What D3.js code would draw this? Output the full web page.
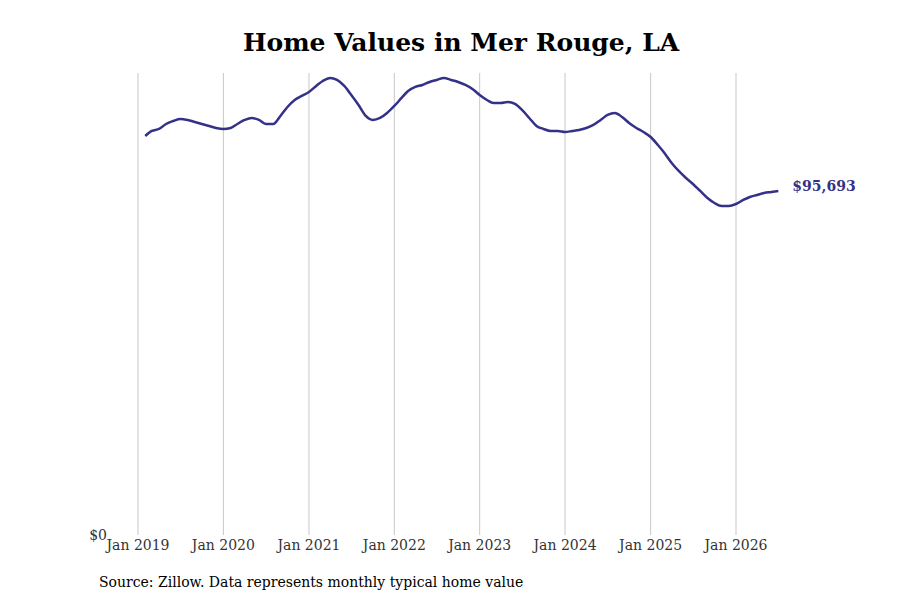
<!DOCTYPE html>
<html>
<head>
<meta charset="utf-8">
<script src="https://cdn.jsdelivr.net/npm/d3@7"></script>
<style>
  body { margin: 0; background: #fff; }
  text { font-family: "DejaVu Serif", "Liberation Serif", serif; }
</style>
</head>
<body>
<div class="chart"></div>
<script>
const width = 900;
const height = 600;

const startMonth = new Date(2019, 1, 1); // Feb 2019
const values = [
  111000, 112393, 112949, 114340, 115175, 115731, 115453, 114897, 114340, 113784, 113227,
  112949, 113227, 114340, 115453, 116009, 115453, 114340, 114340, 116566, 119070, 121017, 122130,
  123243, 124912, 126303, 127137, 126581, 124912, 122408, 119626, 116566, 115453, 116009, 117400,
  119348, 121573, 123521, 124634, 125190, 126025, 126581, 127137, 126581, 126025, 125190, 124077,
  122408, 121017, 120182, 120182, 120461, 119904, 118235, 116009, 113784, 112949, 112393, 112393,
  112115, 112393, 112671, 113227, 114062, 115453, 116844, 117400, 116288, 114618, 113227, 112115,
  110724, 108498, 106272, 103490, 101265, 99317, 97648, 95701, 93753, 92362, 91528, 91528,
  92084, 93197, 94032, 94588, 95144, 95423, 95693
];
const tickYears = [2019, 2020, 2021, 2022, 2023, 2024, 2025, 2026];

const data = values.map((v, i) => ({
  date: new Date(startMonth.getFullYear(), startMonth.getMonth() + i, 1),
  value: v
}));

const svg = d3.select('.chart')
  .append('svg')
  .attr('width', width)
  .attr('height', height);

const x = d3.scaleTime()
  .domain([new Date(2019, 0, 1), new Date(2026, 0, 1)])
  .range([138, 736]);

const y = d3.scaleLinear()
  .domain([0, 95693])
  .range([535, 191]);

// Vertical gridlines
svg.append('g')
  .selectAll('line')
  .data(tickYears)
  .enter()
  .append('line')
  .attr('x1', (d) => x(new Date(d, 0, 1)))
  .attr('x2', (d) => x(new Date(d, 0, 1)))
  .attr('y1', 73)
  .attr('y2', 535)
  .attr('stroke', '#c8c8c8')
  .attr('stroke-width', 1);

// x tick labels
svg.append('g')
  .selectAll('text')
  .data(tickYears)
  .enter()
  .append('text')
  .attr('x', (d) => x(new Date(d, 0, 1)))
  .attr('y', 550)
  .attr('text-anchor', 'middle')
  .attr('font-size', 14)
  .attr('fill', '#333')
  .text((d) => 'Jan ' + d);

svg.append('text')
  .attr('x', 107)
  .attr('y', y(0) + 5)
  .attr('text-anchor', 'end')
  .attr('font-size', 14)
  .attr('fill', '#333')
  .text('$0');

const line = d3.line()
  .x((d) => x(d.date))
  .y((d) => y(d.value))
  .curve(d3.curveMonotoneX);

svg.append('path')
  .datum(data)
  .attr('d', line)
  .attr('fill', 'none')
  .attr('stroke', '#343188')
  .attr('stroke-width', 2.5);

const last = data[data.length - 1];
svg.append('text')
  .attr('x', x(last.date) + 14)
  .attr('y', y(last.value) + 0)
  .attr('font-size', 14)
  .attr('font-weight', 'bold')
  .attr('fill', '#343188')
  .text('$' + d3.format(',')(last.value));

svg.append('text')
  .attr('x', 461)
  .attr('y', 51)
  .attr('text-anchor', 'middle')
  .attr('font-size', 25)
  .attr('font-weight', 'bold')
  .text('Home Values in Mer Rouge, LA');

svg.append('text')
  .attr('x', 99)
  .attr('y', 587)
  .attr('font-size', 14)
  .text('Source: Zillow. Data represents monthly typical home value');
</script>
</body>
</html>
